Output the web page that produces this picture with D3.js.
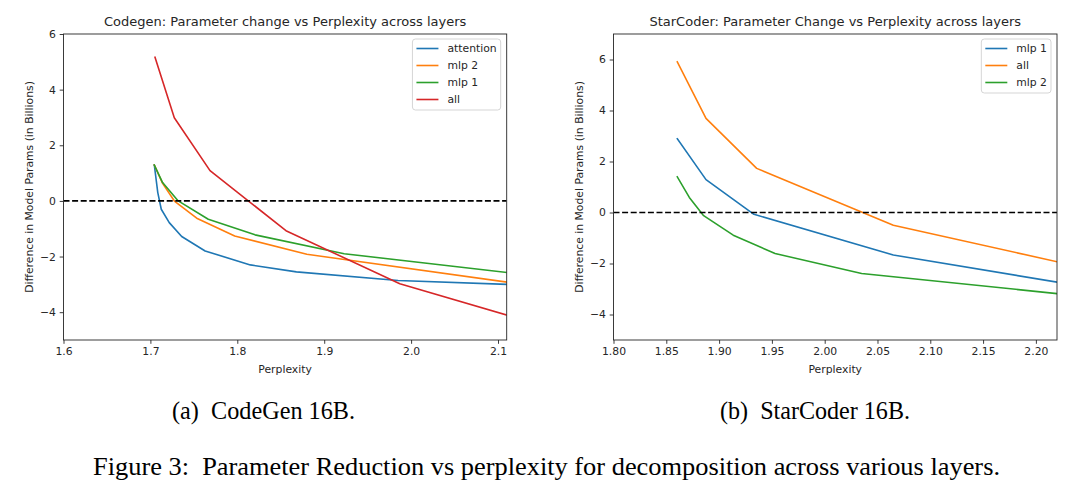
<!DOCTYPE html>
<html><head><meta charset="utf-8">
<script src="https://cdn.jsdelivr.net/npm/d3@7"></script>
<style>
html,body{margin:0;padding:0;background:#fff;}
svg{display:block;}
</style></head>
<body>
<svg id="fig" width="1080" height="489"></svg>
<script>
// ---------------- DATA ----------------
// Panel (a) CodeGen 16B
const codegenTitle = "Codegen: Parameter change vs Perplexity across layers";
const codegenXTicks = [1.6, 1.7, 1.8, 1.9, 2.0, 2.1];
const codegenYTicks = [-4, -2, 0, 2, 4, 6];
const codegenSeriesNames = ["attention", "mlp 2", "mlp 1", "all"];
const codegenAttentionX = [1.7045, 1.7085, 1.7125, 1.7217, 1.736, 1.763, 1.815, 1.868, 1.985, 2.11];
const codegenAttentionY = [1.29, 0.30, -0.30, -0.78, -1.28, -1.80, -2.30, -2.55, -2.86, -3.00];
const codegenMlp2X = [1.7045, 1.714, 1.728, 1.7533, 1.797, 1.880, 2.11];
const codegenMlp2Y = [1.29, 0.63, -0.02, -0.62, -1.26, -1.92, -2.92];
const codegenMlp1X = [1.7045, 1.714, 1.732, 1.7666, 1.8204, 1.923, 2.11];
const codegenMlp1Y = [1.29, 0.66, 0.00, -0.66, -1.22, -1.90, -2.57];
const codegenAllX = [1.7053, 1.7275, 1.7686, 1.856, 1.987, 2.11];
const codegenAllY = [5.16, 2.99, 1.09, -1.07, -2.98, -4.10];

// Panel (b) StarCoder 16B
const starTitle = "StarCoder: Parameter Change vs Perplexity across layers";
const starXTicks = [1.80, 1.85, 1.90, 1.95, 2.00, 2.05, 2.10, 2.15, 2.20];
const starYTicks = [-4, -2, 0, 2, 4, 6];
const starSeriesNames = ["mlp 1", "all", "mlp 2"];
const starMlp1X = [1.8604, 1.8876, 1.933, 2.065, 2.22];
const starMlp1Y = [2.89, 1.29, -0.07, -1.67, -2.73];
const starAllX = [1.8604, 1.8876, 1.9356, 2.065, 2.22];
const starAllY = [5.91, 3.69, 1.73, -0.50, -1.93];
const starMlp2X = [1.8604, 1.8718, 1.885, 1.9134, 1.953, 2.035, 2.22];
const starMlp2Y = [1.40, 0.59, -0.11, -0.89, -1.61, -2.39, -3.18];

const xLabel = "Perplexity";
const yLabel = "Difference in Model Params (in Billions)";
const captionA = "(a)  CodeGen 16B.";
const captionB = "(b)  StarCoder 16B.";
const figCaption = "Figure 3:  Parameter Reduction vs perplexity for decomposition across various layers.";

// ---------------- DRAW ----------------
const C = {blue:"#1f77b4", orange:"#ff7f0e", green:"#2ca02c", red:"#d62728"};
const svg = d3.select("#fig");
svg.append("rect").attr("width",1080).attr("height",489).attr("fill","#fff");
const font = "'DejaVu Sans', sans-serif";
const ink = "#262626";
const fs = 10.8;
const fmtMinus = s => s.replace("-", "\u2212");

function panel(o){
  const g = svg.append("g");
  const x = d3.scaleLinear().domain(o.xDomain).range([o.x0, o.x1]);
  const y = d3.scaleLinear().domain(o.yDomain).range([o.y1, o.y0]);

  const cid = "clip" + o.id;
  svg.append("clipPath").attr("id", cid).append("rect")
    .attr("x", o.x0).attr("y", o.y0).attr("width", o.x1 - o.x0).attr("height", o.y1 - o.y0);

  const plot = g.append("g").attr("clip-path", `url(#${cid})`);
  const line = d3.line().x(d => x(d[0])).y(d => y(d[1]));
  o.series.forEach(s => {
    plot.append("path").datum(d3.zip(s.x, s.y))
      .attr("d", line).attr("fill","none").attr("stroke", s.color)
      .attr("stroke-width", 1.6).attr("stroke-linejoin","round").attr("stroke-linecap","square");
  });
  plot.append("path").datum([[o.xDomain[0],0],[o.xDomain[1],0]])
    .attr("d", line).attr("stroke","#000").attr("stroke-width",1.6)
    .attr("stroke-dasharray","6,2.6").attr("fill","none");

  const xAxis = d3.axisBottom(x).tickValues(o.xTicks).tickSize(3.8).tickPadding(3.8).tickFormat(o.xFmt);
  const yAxis = d3.axisLeft(y).tickValues(o.yTicks).tickSize(3.8).tickPadding(3.8).tickFormat(d => fmtMinus(d3.format("d")(d)));
  const gx = g.append("g").attr("transform", `translate(0,${o.y1})`).call(xAxis);
  const gy = g.append("g").attr("transform", `translate(${o.x0},0)`).call(yAxis);
  [gx, gy].forEach(a => {
    a.select(".domain").remove();
    a.selectAll(".tick line").attr("stroke", ink).attr("stroke-width", 0.9);
    a.selectAll(".tick text").attr("fill", ink).style("font-family", font).style("font-size", fs + "px");
  });
  g.append("rect").attr("x", o.x0).attr("y", o.y0).attr("width", o.x1 - o.x0).attr("height", o.y1 - o.y0)
    .attr("fill","none").attr("stroke", ink).attr("stroke-width", 0.9);

  g.append("text").attr("x", (o.x0 + o.x1)/2).attr("y", o.y0 - 8).attr("text-anchor","middle")
    .style("font-family", font).style("font-size","13px").attr("fill", ink).text(o.title);
  g.append("text").attr("x", (o.x0 + o.x1)/2).attr("y", o.y1 + 33).attr("text-anchor","middle")
    .style("font-family", font).style("font-size", fs + "px").attr("fill", ink).text(xLabel);
  g.append("text").attr("transform", `translate(${o.ylx},${(o.y0 + o.y1)/2}) rotate(-90)`)
    .attr("text-anchor","middle").attr("dy","0.35em")
    .style("font-family", font).style("font-size", fs + "px").attr("fill", ink).text(yLabel);

  // legend
  const lg = g.append("g");
  const rowH = 17;
  const box = lg.append("rect");
  const texts = [];
  o.series.forEach((s, i) => {
    texts.push(lg.append("text").attr("dy","0.35em")
      .style("font-family", font).style("font-size", fs + "px").attr("fill", ink).text(s.name));
  });
  const tw = d3.max(texts, t => t.node().getComputedTextLength());
  const lw = 4 + 22 + 9 + tw + 4, lh = o.series.length * rowH + 3;
  const lx = o.x1 - 6 - lw, ly = o.y0 + 5;
  box.attr("x", lx).attr("y", ly).attr("width", lw).attr("height", lh)
    .attr("rx", 3).attr("fill","#fff").attr("fill-opacity",0.8).attr("stroke","#d0d0d0").attr("stroke-width",0.9);
  o.series.forEach((s, i) => {
    const cy = ly + 9.5 + i * rowH;
    lg.append("line").attr("x1", lx + 4).attr("x2", lx + 26).attr("y1", cy).attr("y2", cy)
      .attr("stroke", s.color).attr("stroke-width", 1.6);
    texts[i].attr("x", lx + 35).attr("y", cy);
  });
}

panel({
  id: "a", x0: 63.5, x1: 506.7, y0: 34, y1: 340, ylx: 29,
  xDomain: [1.6, 2.11], yDomain: [-5, 6],
  xTicks: codegenXTicks, yTicks: codegenYTicks, xFmt: d3.format(".1f"),
  title: codegenTitle,
  series: [
    {name: codegenSeriesNames[0], x: codegenAttentionX, y: codegenAttentionY, color: C.blue},
    {name: codegenSeriesNames[1], x: codegenMlp2X, y: codegenMlp2Y, color: C.orange},
    {name: codegenSeriesNames[2], x: codegenMlp1X, y: codegenMlp1Y, color: C.green},
    {name: codegenSeriesNames[3], x: codegenAllX, y: codegenAllY, color: C.red}
  ]
});
panel({
  id: "b", x0: 613.5, x1: 1057, y0: 34, y1: 340, ylx: 579,
  xDomain: [1.8, 2.22], yDomain: [-5, 7],
  xTicks: starXTicks, yTicks: starYTicks, xFmt: d3.format(".2f"),
  title: starTitle,
  series: [
    {name: starSeriesNames[0], x: starMlp1X, y: starMlp1Y, color: C.blue},
    {name: starSeriesNames[1], x: starAllX, y: starAllY, color: C.orange},
    {name: starSeriesNames[2], x: starMlp2X, y: starMlp2Y, color: C.green}
  ]
});

// captions
const serif = "'Liberation Serif', 'Times New Roman', serif";
function caption(txt, x0, x1, yb, size){
  svg.append("text").attr("x", x0).attr("y", yb)
    .attr("textLength", x1 - x0).attr("lengthAdjust", "spacingAndGlyphs")
    .style("font-family", serif).style("font-size", size + "px").style("white-space","pre")
    .attr("fill","#000").text(txt);
}
caption(captionA, 172, 355, 419, 25);
caption(captionB, 720, 910, 419, 25);
caption(figCaption, 93, 1000, 475, 25);
</script>
</body></html>
